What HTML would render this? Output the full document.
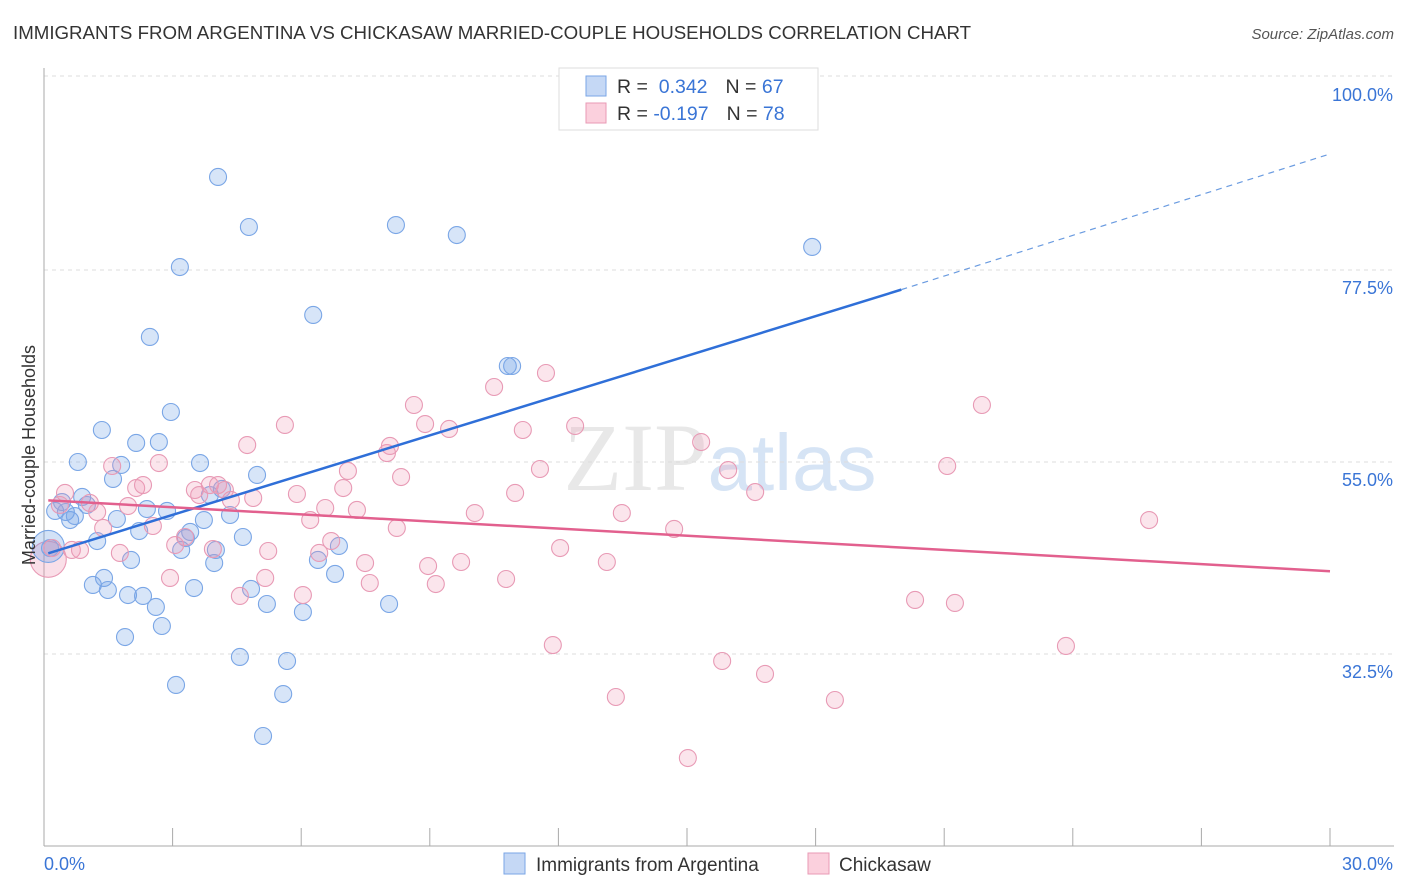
<!DOCTYPE html>
<html><head><meta charset="utf-8"><style>
body{margin:0;background:#fff;font-family:"Liberation Sans",sans-serif;}
svg{display:block}
</style></head><body>
<svg id="chart" width="1406" height="892" xmlns="http://www.w3.org/2000/svg">
<text x="13" y="39" font-size="18.7" fill="#333">IMMIGRANTS FROM ARGENTINA VS CHICKASAW MARRIED-COUPLE HOUSEHOLDS CORRELATION CHART</text>
<text x="1394" y="39" font-size="15" fill="#555" font-style="italic" text-anchor="end">Source: ZipAtlas.com</text>
<text x="720" y="490" font-size="96" fill="#e8e8e8" text-anchor="middle" font-family="Liberation Serif,serif">ZIP<tspan font-family="Liberation Sans,sans-serif" fill="#d6e4f5" font-size="80">atlas</tspan></text>
<g id="grid"></g><g id="axes"></g><g id="pts"></g><g id="lines"></g>
<text transform="translate(35,455) rotate(-90)" font-size="18" fill="#333" text-anchor="middle">Married-couple Households</text>
<g>
<rect x="559" y="68" width="259" height="62" fill="#fff" stroke="#ddd"/>
<rect x="586" y="76" width="20" height="20" fill="#c5d8f5" stroke="#7aa6e6"/>
<rect x="586" y="103" width="20" height="20" fill="#fbd0dd" stroke="#e89ab5"/>
<text x="617" y="93" font-size="19.5" fill="#333">R = <tspan fill="#3a75d6">&#160;0.342</tspan><tspan dx="18">N = </tspan><tspan fill="#3a75d6">67</tspan></text>
<text x="617" y="120" font-size="19.5" fill="#333">R = <tspan fill="#3a75d6">-0.197</tspan><tspan dx="18">N = </tspan><tspan fill="#3a75d6">78</tspan></text>
</g>
<g>
<rect x="504" y="853" width="21" height="21" fill="#c5d8f5" stroke="#7aa6e6"/>
<text x="536" y="871" font-size="19" fill="#333">Immigrants from Argentina</text>
<rect x="808" y="853" width="21" height="21" fill="#fbd0dd" stroke="#e89ab5"/>
<text x="839" y="871" font-size="19" fill="#333">Chickasaw</text>
</g>
</svg>
<script>
const yTicks=[32.5,55,77.5,100];
const xTickLabels=["0.0%","30.0%"];
const blueXpx=[50,55,62,66,70,75,78,82,87,93,97,102,104,108,113,117,121,125,128,131,136,139,143,147,150,156,159,162,167,171,176,180,181,186,190,194,200,204,210,214,216,218,222,230,240,243,249,251,257,263,267,283,287,303,313,318,335,339,389,396,457,508,512,812];
const blueYpx=[548,511,502,512,520,516,462,497,505,585,541,430,578,590,479,519,465,637,595,560,443,531,596,509,337,607,442,626,511,412,685,267,550,538,532,588,463,520,495,563,550,177,489,515,657,537,227,589,475,736,604,694,661,612,315,560,574,546,604,225,235,366,366,247];
const pinkXpx=[52,60,65,72,80,90,97,103,112,120,128,136,143,153,159,170,175,185,195,199,210,213,218,225,231,240,247,253,265,268,285,297,303,310,319,325,331,343,348,357,365,370,387,390,397,401,414,425,428,436,449,461,475,494,506,515,523,540,546,553,560,575,607,616,622,674,688,701,722,728,755,765,835,915,947,955,982,1066,1149];
const pinkYpx=[548,505,493,550,550,503,512,528,466,553,506,488,485,526,463,578,545,537,490,495,485,549,485,490,500,596,445,498,578,551,425,494,595,520,553,508,541,488,471,510,563,583,453,446,528,477,405,424,566,584,429,562,513,387,579,493,430,469,373,645,548,426,562,697,513,529,758,442,661,470,492,674,700,600,466,603,405,646,520];
const X0=44,X1=1330,XMAX=30,YA=654,YS=192/22.5;
const toX=p=>+((p-X0)/(X1-X0)*XMAX).toFixed(2), toY=p=>+(32.5+(YA-p)/YS).toFixed(2);
const blueX=blueXpx.map(toX), blueY=blueYpx.map(toY);
const pinkX=pinkXpx.map(toX), pinkY=pinkYpx.map(toY);
const blueBig=[[0.1,45.1]], pinkBig=[[0.1,43.6]];
const blueTrend=[[0.1,44.3],[20,75.2],[30,91.1]];
const pinkTrend=[[0.1,50.5],[30,42.2]];
const sx=v=>X0+v/XMAX*(X1-X0), sy=v=>YA-(v-32.5)*YS;
const NS="http://www.w3.org/2000/svg";
function mk(tag,attrs,parent){const e=document.createElementNS(NS,tag);for(const k in attrs)e.setAttribute(k,attrs[k]);parent.appendChild(e);return e;}
const grid=document.getElementById('grid'),axes=document.getElementById('axes'),pts=document.getElementById('pts'),lines=document.getElementById('lines');
yTicks.forEach(t=>{const y=sy(t)+(t===100?-2:0);
 const g=mk('line',{x1:44,x2:1394,y1:y,y2:y,stroke:'#ddd','stroke-dasharray':'4,4'},grid);
 
 
 const tx=mk('text',{x:1393,y:y+(t===100?25:24),'font-size':18,fill:'#3a75d6','text-anchor':'end'},grid);tx.textContent=t.toFixed(1)+'%';
 
 
});
const ya=mk('line',{x1:44,x2:44,y1:68,y2:846,stroke:'#aaa'},axes);


const xa=mk('line',{x1:44,x2:1394,y1:846,y2:846,stroke:'#aaa'},axes);


for(let i=0;i<=10;i++){const x=sx(i*3);const t=mk('line',{x1:x,x2:x,y1:828,y2:846,stroke:'#aaa'},axes);
 
 }
[[44,'start',xTickLabels[0]],[1393,'end',xTickLabels[1]]].forEach(a=>{const t=mk('text',{x:a[0],y:870,'font-size':18,fill:'#3a75d6','text-anchor':a[1]},axes);t.textContent=a[2];
 
 });
function dots(xs,ys,fill,stroke,name,r){xs.forEach((v,i)=>{const c=mk('circle',{cx:sx(v),cy:sy(ys[i]),r:r,fill:fill,stroke:stroke,'stroke-width':1.1},pts);
 
 });}
dots(pinkBig.map(d=>d[0]),pinkBig.map(d=>d[1]),'rgba(240,150,180,0.3)','#e89ab5','pink-point',18);
dots(blueBig.map(d=>d[0]),blueBig.map(d=>d[1]),'rgba(110,160,230,0.3)','#7aa6e6','blue-point',16);
dots(blueX,blueY,'rgba(110,160,230,0.28)','#7aa6e6','blue-point',8.5);
dots(pinkX,pinkY,'rgba(240,150,180,0.25)','#e89ab5','pink-point',8.5);
const b1=mk('line',{x1:sx(blueTrend[0][0]),y1:sy(blueTrend[0][1]),x2:sx(blueTrend[1][0]),y2:sy(blueTrend[1][1]),stroke:'#2f6fd8','stroke-width':2.5},lines);


const b2=mk('line',{x1:sx(blueTrend[1][0]),y1:sy(blueTrend[1][1]),x2:sx(blueTrend[2][0]),y2:sy(blueTrend[2][1]),stroke:'#6a9be0','stroke-width':1.2,'stroke-dasharray':'6,5'},lines);


const p1=mk('line',{x1:sx(pinkTrend[0][0]),y1:sy(pinkTrend[0][1]),x2:sx(pinkTrend[1][0]),y2:sy(pinkTrend[1][1]),stroke:'#e2608e','stroke-width':2.5},lines);


</script>
</body></html>
